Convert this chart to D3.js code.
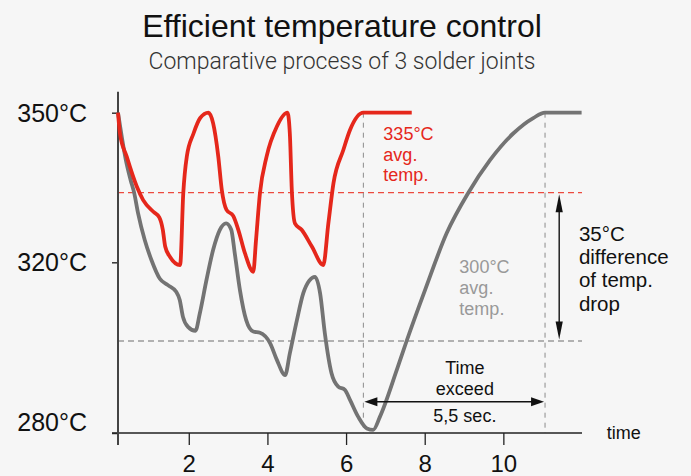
<!DOCTYPE html>
<html>
<head>
<meta charset="utf-8">
<script src="https://cdn.jsdelivr.net/npm/d3@7"></script>
<style>
  body { margin: 0; background: #f6f6f6; }
  svg { display: block; font-family: "Liberation Sans", Arial, sans-serif; }
</style>
</head>
<body>
<svg id="chart" width="691" height="476"></svg>
<script>
// time (s) / temperature (°C)
const redSeries = [
  [0.2, 350], [0.25, 346.1], [0.42, 341.8], [0.68, 336.1], [0.84, 333.4], [1.1, 330.9],
  [1.25, 329.7], [1.34, 327.0], [1.4, 323.4], [1.52, 321.2], [1.78, 319.3],
  [1.86, 334.9], [1.95, 341.8], [2.12, 346.1], [2.29, 349.0], [2.5, 350],
  [2.62, 348.0], [2.75, 341.8], [2.84, 335.5], [2.96, 331.3], [3.13, 330.0],
  [3.26, 327.0], [3.43, 321.9], [3.64, 317.6],
  [3.71, 324.8], [3.81, 334.9], [3.98, 341.8], [4.24, 347.4], [4.51, 350],
  [4.57, 346.1], [4.62, 335.5], [4.7, 328.4], [4.87, 327.0], [5.13, 323.4], [5.42, 319.3],
  [5.55, 328.4], [5.68, 336.8], [5.93, 343.0], [6.1, 346.75], [6.44, 350], [7.67, 350]
];
const graySeries = [
  [0.2, 350], [0.3, 345.3], [0.4, 341.1], [0.52, 337.4], [0.61, 335], [0.71, 330.6],
  [0.88, 324.8], [1.05, 320.5], [1.26, 315.9], [1.47, 314.2], [1.68, 312.5], [1.77, 310.4],
  [1.85, 306.2], [1.98, 303.6], [2.17, 302.6],
  [2.28, 307.0], [2.45, 315.5], [2.62, 322.7], [2.79, 327.0], [2.95, 328.4],
  [3.08, 327.0], [3.17, 321.9], [3.3, 313.0], [3.46, 305.3], [3.64, 302.4], [3.81, 302.1],
  [4.07, 299.5], [4.24, 295.9], [4.45, 292.6],
  [4.57, 297.3], [4.75, 305.3], [4.91, 312.1], [5.06, 315.3], [5.21, 316.3],
  [5.34, 312.1], [5.46, 302.0], [5.63, 293.0], [5.8, 290.1], [5.97, 289.4], [6.1, 287.2],
  [6.31, 283.5], [6.53, 281.0], [6.69, 280.7],
  [6.86, 283.5], [7.29, 293.7], [7.54, 300], [8.01, 313.0], [8.56, 326.3], [9.11, 335],
  [9.66, 341.1], [10.25, 346.1], [10.76, 349.0], [11.06, 350], [11.99, 350]
];
const xTicks = [2, 4, 6, 8, 10];
const yTicks = [280, 320, 350];
const yKnots = [280, 300, 320, 335, 350];   // schematic, not evenly spaced
const avgTemps = [335, 300];
const reachTimes = [6.44, 11.06];          // red / gray back at 350°C
const exceedTemp = 286.8;                  // level of the "time exceed" arrow
const dropTime = 11.42;                    // where the 35°C arrow stands

const redLabel = ["335°C", "avg.", "temp."];
const grayLabel = ["300°C", "avg.", "temp."];
const diffLabel = ["35°C", "difference", "of temp.", "drop"];
const exceedLabel = ["Time", "exceed"];

const RED = "#e5271b", GRAY = "#737373";

const svg = d3.select("#chart");

const x = d3.scaleLinear().domain([0.2, 12]).range([118, 582]);
const y = d3.scaleLinear().domain(yKnots).range([433, 341, 262.3, 192.7, 112.7]);

// title
svg.append("text")
  .attr("x", 342).attr("y", 37)
  .attr("text-anchor", "middle")
  .attr("font-size", 32).attr("fill", "#111")
  .text("Efficient temperature control");
svg.append("text")
  .attr("x", 342).attr("y", 69)
  .attr("text-anchor", "middle")
  .attr("font-family", "Roboto, 'Liberation Sans', sans-serif")
  .attr("font-weight", 300)
  .attr("font-size", 23).attr("fill", "#333")
  .text("Comparative process of 3 solder joints");

// reference lines
svg.selectAll(".avg")
  .data(avgTemps)
  .join("line")
  .attr("class", "avg")
  .attr("x1", x(0.2)).attr("x2", x(12))
  .attr("y1", d => y(d)).attr("y2", d => y(d))
  .attr("stroke", (d, i) => i === 0 ? "#ec4a3e" : "#9a9a9a")
  .attr("stroke-width", 1.3)
  .attr("stroke-dasharray", "6,4");

svg.selectAll(".reach")
  .data(reachTimes)
  .join("line")
  .attr("class", "reach")
  .attr("x1", d => x(d)).attr("x2", d => x(d))
  .attr("y1", y(350)).attr("y2", y(280))
  .attr("stroke", "#8c8c8c")
  .attr("stroke-width", 1)
  .attr("stroke-dasharray", "5,5");

// axes
const yAxis = d3.axisLeft(y)
  .tickValues(yTicks)
  .tickSize(6)
  .tickPadding(25)
  .tickFormat(d => d + "°C");
const gy = svg.append("g").attr("transform", `translate(${x(0.2)},0)`).call(yAxis);
gy.select(".domain").remove();
gy.selectAll(".tick line").attr("stroke", "#333").attr("stroke-width", 1.5);
gy.selectAll(".tick text")
  .attr("font-size", 25).attr("fill", "#111")
  .attr("font-family", "'Liberation Sans', Arial, sans-serif")
  .attr("dy", d => d === 280 ? "-0.12em" : "0.34em");

const xAxis = d3.axisBottom(x)
  .tickValues(xTicks)
  .tickSize(12)
  .tickPadding(9.5)
  .tickFormat(d3.format("d"));
const gx = svg.append("g").attr("transform", `translate(0,${y(280)})`).call(xAxis);
gx.select(".domain").remove();
gx.selectAll(".tick line").attr("stroke", "#222").attr("stroke-width", 1.3);
gx.selectAll(".tick text")
  .attr("font-size", 24).attr("fill", "#111")
  .attr("font-family", "'Liberation Sans', Arial, sans-serif");

svg.append("line")
  .attr("x1", x(0.2) - 6).attr("x2", x(12))
  .attr("y1", y(280)).attr("y2", y(280))
  .attr("stroke", "#222").attr("stroke-width", 1.5);
svg.append("line")
  .attr("x1", x(0.2)).attr("x2", x(0.2))
  .attr("y1", y(350) - 21).attr("y2", y(280) + 12)
  .attr("stroke", "#444").attr("stroke-width", 2);

svg.append("text")
  .attr("x", x(12) + 24.7).attr("y", y(280) + 5.5)
  .attr("font-size", 18).attr("fill", "#111")
  .text("time");

// curves
const line = d3.line()
  .x(d => x(d[0]))
  .y(d => y(d[1]))
  .curve(d3.curveMonotoneX);

svg.append("path")
  .datum(graySeries)
  .attr("d", line)
  .attr("fill", "none")
  .attr("stroke", GRAY)
  .attr("stroke-width", 3.8)
  .attr("stroke-linejoin", "round");

svg.append("path")
  .datum(redSeries)
  .attr("d", line)
  .attr("fill", "none")
  .attr("stroke", RED)
  .attr("stroke-width", 3.8)
  .attr("stroke-linejoin", "round");

// arrows
function head(px, py, dx, dy, len, half) {
  // tip at (px,py), pointing along (dx,dy)
  const bx = px - dx * len, by = py - dy * len;
  return `M${px},${py}L${bx - dy * half},${by + dx * half}L${bx + dy * half},${by - dx * half}Z`;
}

const ax1 = x(reachTimes[0]) + 1, ax2 = x(reachTimes[1]) - 1, ay = y(exceedTemp);
svg.append("line")
  .attr("x1", ax1 + 6).attr("x2", ax2 - 6)
  .attr("y1", ay).attr("y2", ay)
  .attr("stroke", "#111").attr("stroke-width", 1.4);
svg.append("path").attr("d", head(ax1, ay, -1, 0, 13, 4.5)).attr("fill", "#111");
svg.append("path").attr("d", head(ax2, ay, 1, 0, 13, 4.5)).attr("fill", "#111");

const vx = x(dropTime), vy1 = y(avgTemps[0]) + 1.5, vy2 = y(avgTemps[1]) - 1.5;
svg.append("line")
  .attr("x1", vx).attr("x2", vx)
  .attr("y1", vy1 + 8).attr("y2", vy2 - 8)
  .attr("stroke", "#111").attr("stroke-width", 1.4);
svg.append("path").attr("d", head(vx, vy1, 0, -1, 18, 3.6)).attr("fill", "#111");
svg.append("path").attr("d", head(vx, vy2, 0, 1, 18, 3.6)).attr("fill", "#111");

// annotations
function block(lines, px, py, step, opts) {
  const t = svg.append("text")
    .attr("x", px).attr("y", py)
    .attr("font-size", opts.size)
    .attr("fill", opts.fill)
    .attr("text-anchor", opts.anchor || "start");
  t.selectAll("tspan")
    .data(lines)
    .join("tspan")
    .attr("x", px)
    .attr("y", (d, i) => py + i * step)
    .text(d => d);
}

block(redLabel, x(reachTimes[0]) + 20, y(350) + 27.3, 20.5, { size: 18, fill: RED });
block(grayLabel, x(reachTimes[0]) + 96, y(300) - 67.7, 20.8, { size: 18, fill: "#999" });
block(diffLabel, vx + 19.7, y(335) + 48, 23.3, { size: 20.5, fill: "#111" });
block(exceedLabel, x(reachTimes[0]) + 101.5, ay - 27.4, 20.7, { size: 18, fill: "#111", anchor: "middle" });
block(["5,5 sec."], x(reachTimes[0]) + 101.5, ay + 20, 0, { size: 18, fill: "#111", anchor: "middle" });
</script>
</body>
</html>
